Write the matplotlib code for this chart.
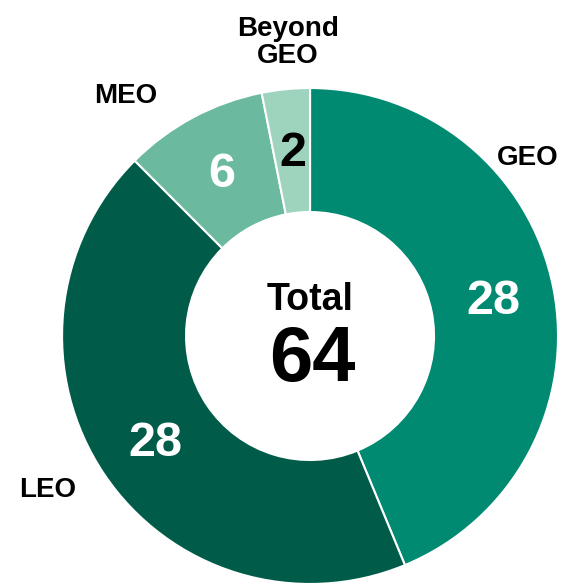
"""Donut chart of satellite counts by orbit."""
import matplotlib
matplotlib.use("Agg")
import matplotlib.pyplot as plt

orbits = ["GEO", "LEO", "MEO", "Beyond\nGEO"]
counts = [28, 28, 6, 2]
colors = ["#008A71", "#005C48", "#6BBAA0", "#9ED3BD"]
value_colors = ["white", "white", "white", "black"]
total = sum(counts)

plt.rcParams["font.family"] = ["Liberation Sans Narrow", "Liberation Sans", "DejaVu Sans"]
plt.rcParams["font.weight"] = "bold"

fig = plt.figure(figsize=(5.68, 5.83), dpi=100)
ax = fig.add_axes([0, 0, 1, 1])

# wedges clockwise from 12 o'clock
wedges, _ = ax.pie(counts, colors=colors, startangle=90, counterclock=False,
                   radius=1.0, wedgeprops=dict(width=0.5, edgecolor="white", linewidth=1.5))

ax.set_xlim(-1.25, 1.04)
ax.set_ylim(-0.996, 1.355)
ax.set_aspect("equal")
ax.axis("off")

# pixel positions, converted to data coords
def px(x, y):
    return (x - 310) / 248, (336 - y) / 248

label_pos = [px(528, 158), px(48, 490), px(126, 96), px(288, 42)]
value_pos = [px(493, 301), px(155, 443), px(222, 174), px(293, 153)]

for name, v, lp, vp, vc in zip(orbits, counts, label_pos, value_pos, value_colors):
    ax.text(*lp, name, ha="center", va="center", fontsize=20, fontweight="bold",
            linespacing=1.05)
    ax.text(*vp, str(v), ha="center", va="center", fontsize=35, fontweight="bold", color=vc)

ax.text(*px(310, 300), "Total", ha="center", va="center", fontsize=27, fontweight="bold")
ax.text(*px(312, 360), str(total), ha="center", va="center", fontsize=56, fontweight="bold")

fig.savefig("out.png", dpi=100)
